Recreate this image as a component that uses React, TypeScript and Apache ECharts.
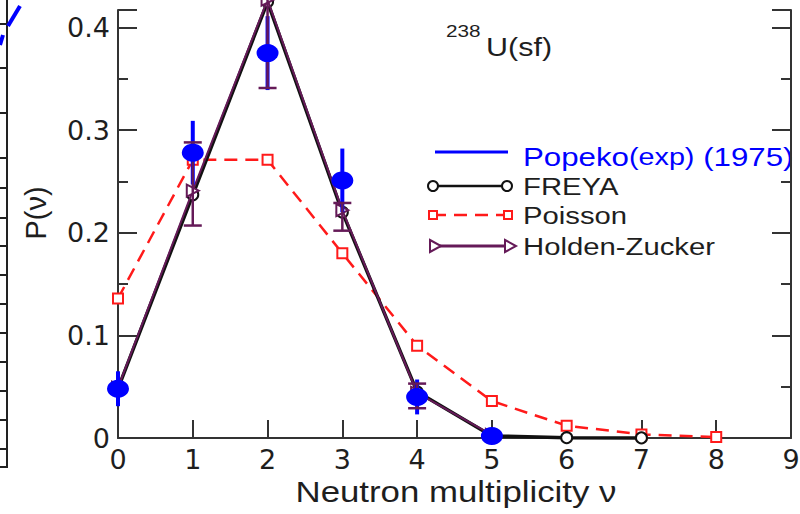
import React, { useEffect, useRef } from "react";
import * as echarts from "echarts";

// Neutron multiplicity distribution for 238U spontaneous fission
const NU = [0, 1, 2, 3, 4, 5, 6, 7, 8];
const X_TICKS = [0, 1, 2, 3, 4, 5, 6, 7, 8, 9];
const Y_TICKS = [0, 0.1, 0.2, 0.3, 0.4];

// Popeko measurement (1975)
const POPEKO_NU = [0, 1, 2, 3, 4, 5];
const POPEKO_P = [0.048, 0.278, 0.375, 0.251, 0.04, 0.002];
const POPEKO_ERR = [0.017, 0.031, 0.036, 0.031, 0.017, 0];

// FREYA calculation
const FREYA_NU = [0, 1, 2, 3, 4, 5, 6, 7];
const FREYA_P = [0.048, 0.237, 0.425, 0.22, 0.045, 0.002, 0.0003, 0.0001];

// Poisson distribution
const POISSON_P = [0.136, 0.271, 0.271, 0.18, 0.09, 0.036, 0.012, 0.0035, 0.0009];

// Holden-Zucker evaluation with its uncertainty band
const HZ_NU = [0, 1, 2, 3, 4, 5];
const HZ_P = [0.049, 0.241, 0.427, 0.222, 0.044, 0.003];
const HZ_LOW = [null, 0.207, 0.341, 0.202, 0.029, null];
const HZ_HIGH = [null, 0.288, 0.51, 0.229, 0.053, null];

const BLUE = "#0000ff";
const RED = "#ff1a1a";
const PURPLE = "#651a58";
const AXIS = "#333333";
const TEXT = "#1e1e1e";
const LEGEND_FONT = "Liberation Sans, Arial, Helvetica, sans-serif";
const TICK_FONT = "DejaVu Sans, sans-serif";

const pairs = (xs: number[], ys: number[]) => xs.map((x, i) => [x, ys[i]]);

function errorBars(color: string, width: number, cap: number) {
  return (params: any, api: any) => {
    const x = api.value(0);
    const lo = api.value(1);
    const hi = api.value(2);
    const a = api.coord([x, lo]);
    const b = api.coord([x, hi]);
    const style = { stroke: color, lineWidth: width };
    const children: any[] = [
      { type: "line", shape: { x1: a[0], y1: a[1], x2: b[0], y2: b[1] }, style },
    ];
    if (cap > 0) {
      children.push(
        { type: "line", shape: { x1: a[0] - cap, y1: a[1], x2: a[0] + cap, y2: a[1] }, style },
        { type: "line", shape: { x1: b[0] - cap, y1: b[1], x2: b[0] + cap, y2: b[1] }, style }
      );
    }
    return { type: "group", children };
  };
}

function legendText(x: number, y: number, text: string, fill: string, size: number) {
  return {
    type: "text",
    x,
    y,
    scaleX: 1.22,
    style: {
      text,
      fill,
      fontSize: size,
      fontFamily: LEGEND_FONT,
      align: "left",
      verticalAlign: "middle",
      textAlign: "left",
      textVerticalAlign: "middle",
    },
  };
}

export default function App() {
  const ref = useRef<HTMLDivElement>(null);

  useEffect(() => {
    if (!ref.current) return;
    const chart = echarts.init(ref.current, null, { renderer: "svg" });

    const popekoBars = POPEKO_NU.filter((_, i) => POPEKO_ERR[i] > 0).map((x) => {
      const i = POPEKO_NU.indexOf(x);
      return [x, POPEKO_P[i] - POPEKO_ERR[i], POPEKO_P[i] + POPEKO_ERR[i]];
    });
    const hzBars = HZ_NU.map((x, i) => [x, HZ_LOW[i], HZ_HIGH[i]]).filter(
      (d) => d[1] !== null
    );

    const yAxisBase = {
      type: "value",
      min: Y_TICKS[0],
      max: 0.417,
      interval: 0.1,
      splitLine: { show: false },
      axisLine: { show: true, lineStyle: { color: AXIS, width: 2 } },
      axisTick: { show: true, inside: true, length: 19, lineStyle: { color: AXIS, width: 2 } },
      minorTick: { show: true, splitNumber: 2, length: 10, lineStyle: { color: AXIS, width: 2 } },
    };

    const option: any = {
      animation: false,
      backgroundColor: "#ffffff",
      grid: {
        left: 118,
        right: 9,
        top: 10,
        bottom: 76,
        containLabel: false,
        outerBoundsMode: "none",
      },
      xAxis: {
        type: "value",
        min: X_TICKS[0],
        max: X_TICKS[X_TICKS.length - 1],
        interval: 1,
        splitLine: { show: false },
        axisLine: { show: true, onZero: false, lineStyle: { color: AXIS, width: 2 } },
        axisTick: { show: true, inside: true, length: 18, lineStyle: { color: AXIS, width: 2 } },
        axisLabel: { fontFamily: TICK_FONT, fontSize: 27, color: TEXT, margin: 8 },
      },
      yAxis: [
        {
          ...yAxisBase,
          position: "left",
          axisLabel: { fontFamily: TICK_FONT, fontSize: 27, color: TEXT, margin: 8 },
        },
        {
          ...yAxisBase,
          position: "right",
          axisLabel: { show: false },
        },
      ],
      series: [
        {
          name: "Poisson",
          type: "line",
          data: pairs(NU, POISSON_P),
          symbol: "emptyRect",
          symbolSize: 10,
          lineStyle: { color: RED, width: 2.5, type: [13, 8] },
          itemStyle: { color: RED, borderWidth: 2 },
          clip: false,
          z: 2,
        },
        {
          name: "FREYA",
          type: "line",
          data: pairs(FREYA_NU, FREYA_P),
          symbol: "emptyCircle",
          symbolSize: 11,
          lineStyle: { color: "#111111", width: 3.5 },
          itemStyle: { color: "#111111", borderWidth: 2 },
          clip: false,
          z: 3,
        },
        {
          name: "Holden-Zucker",
          type: "line",
          data: pairs(HZ_NU, HZ_P),
          symbol: "emptyTriangle",
          symbolRotate: -90,
          symbolSize: 12,
          lineStyle: { color: PURPLE, width: 2 },
          itemStyle: { color: PURPLE, borderWidth: 2 },
          clip: false,
          z: 4,
        },
        {
          name: "HZ uncertainty",
          type: "custom",
          data: hzBars,
          encode: { x: 0, y: [1, 2] },
          renderItem: errorBars(PURPLE, 2.5, 9),
          clip: false,
          z: 6,
        },
        {
          name: "Popeko error",
          type: "custom",
          data: popekoBars,
          encode: { x: 0, y: [1, 2] },
          renderItem: errorBars(BLUE, 4, 0),
          clip: false,
          z: 5,
        },
        {
          name: "Popeko(exp) (1975)",
          type: "scatter",
          data: pairs(POPEKO_NU, POPEKO_P),
          symbol: "circle",
          symbolSize: [22, 18],
          itemStyle: { color: BLUE, opacity: 1 },
          clip: false,
          z: 7,
        },
      ],
      graphic: [
        // edge of the neighbouring panel
        { type: "line", shape: { x1: 7, y1: 0, x2: 7, y2: 467 }, style: { stroke: "#222", lineWidth: 2 } },
        { type: "line", shape: { x1: 0, y1: 467, x2: 8, y2: 467 }, style: { stroke: "#222", lineWidth: 2 } },
        ...[24, 68, 113, 158, 188, 218, 246, 275, 304, 333, 362, 391, 420, 449].map((y) => ({
          type: "line",
          shape: { x1: 0, y1: y, x2: 7, y2: y },
          style: { stroke: "#222", lineWidth: 2 },
        })),
        { type: "line", shape: { x1: 0, y1: 45, x2: 3, y2: 35 }, style: { stroke: BLUE, lineWidth: 4 } },
        { type: "line", shape: { x1: 8, y1: 26, x2: 20, y2: 6 }, style: { stroke: BLUE, lineWidth: 4 } },

        // axis titles
        {
          type: "text",
          x: 456,
          y: 492,
          scaleX: 1.2,
          style: {
            text: "Neutron multiplicity ν",
            fill: TEXT,
            fontSize: 29,
            fontFamily: LEGEND_FONT,
            align: "center",
            verticalAlign: "middle",
            textAlign: "center",
            textVerticalAlign: "middle",
          },
        },
        {
          type: "text",
          x: 36,
          y: 213,
          rotation: Math.PI / 2,
          style: {
            text: "P(ν)",
            fill: TEXT,
            fontSize: 29,
            fontFamily: LEGEND_FONT,
            align: "center",
            verticalAlign: "middle",
            textAlign: "center",
            textVerticalAlign: "middle",
          },
        },

        // reaction label
        legendText(446, 31, "238", TEXT, 17),
        legendText(486, 47, "U(sf)", TEXT, 25),

        // legend
        { type: "line", shape: { x1: 435, y1: 152, x2: 508, y2: 152 }, style: { stroke: BLUE, lineWidth: 3 } },
        {
          type: "text",
          x: 523,
          y: 157,
          scaleX: 1.25,
          style: {
            text: "{a|Popeko}{b|(exp)}{a| (1975)}",
            fill: BLUE,
            fontFamily: LEGEND_FONT,
            align: "left",
            verticalAlign: "middle",
            textAlign: "left",
            textVerticalAlign: "middle",
            rich: {
              a: { fontSize: 25, fill: BLUE, fontFamily: LEGEND_FONT },
              b: { fontSize: 23, fill: BLUE, fontFamily: LEGEND_FONT },
            },
          },
        },
        { type: "line", shape: { x1: 433, y1: 186, x2: 507, y2: 186 }, style: { stroke: "#111", lineWidth: 2.5 } },
        { type: "circle", shape: { cx: 433, cy: 186, r: 5 }, style: { fill: "#fff", stroke: "#111", lineWidth: 2 } },
        { type: "circle", shape: { cx: 507, cy: 186, r: 5 }, style: { fill: "#fff", stroke: "#111", lineWidth: 2 } },
        legendText(523, 187, "FREYA", TEXT, 24),
        {
          type: "line",
          shape: { x1: 433, y1: 215, x2: 508, y2: 215 },
          style: { stroke: RED, lineWidth: 2.5, lineDash: [13, 8] },
        },
        { type: "rect", shape: { x: 429, y: 211, width: 8, height: 8 }, style: { fill: "#fff", stroke: RED, lineWidth: 2 } },
        { type: "rect", shape: { x: 504, y: 211, width: 8, height: 8 }, style: { fill: "#fff", stroke: RED, lineWidth: 2 } },
        legendText(523, 216, "Poisson", TEXT, 24),
        { type: "line", shape: { x1: 435, y1: 246, x2: 510, y2: 246 }, style: { stroke: PURPLE, lineWidth: 3 } },
        {
          type: "polygon",
          shape: { points: [[430, 240], [441, 246], [430, 252]] },
          style: { fill: "#fff", stroke: PURPLE, lineWidth: 2 },
        },
        {
          type: "polygon",
          shape: { points: [[505, 240], [516, 246], [505, 252]] },
          style: { fill: "#fff", stroke: PURPLE, lineWidth: 2 },
        },
        legendText(523, 247, "Holden-Zucker", TEXT, 24),
      ],
    };

    chart.setOption(option);
    return () => chart.dispose();
  }, []);

  return (
    <div
      ref={ref}
      style={{ position: "fixed", left: 0, top: 0, width: 800, height: 514 }}
    />
  );
}
